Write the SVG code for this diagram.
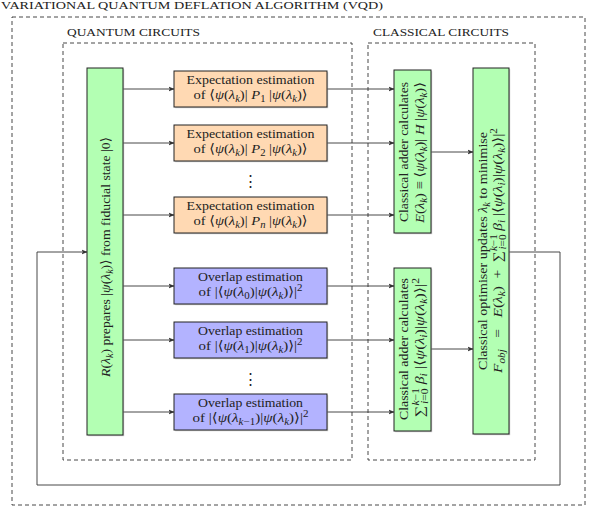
<svg xmlns="http://www.w3.org/2000/svg" width="593" height="512" viewBox="0 0 593 512">
<defs>
<style>
.t{font-family:"Liberation Serif","DejaVu Serif",serif;font-size:13px;fill:#222;}
.h{font-family:"Liberation Serif","DejaVu Serif",serif;font-size:11px;fill:#222;}
.m{text-anchor:middle;}
.i{font-style:italic;}
.s{font-size:9.5px;}
.dash{fill:none;stroke:#333;stroke-width:0.9;stroke-dasharray:4,3;}
.box{stroke:#222;stroke-width:1;}
.sh{fill:#aaa;opacity:0.6;}
.g{fill:#b3ffb3;}
.o{fill:#ffd9b3;}
.b{fill:#b3b3ff;}
.c{fill:none;stroke:#333;stroke-width:0.9;}
</style>
<marker id="ar" viewBox="0 0 6 6" refX="5.5" refY="3" markerWidth="6" markerHeight="6" markerUnits="userSpaceOnUse" orient="auto">
<path d="M0,0.6 L6,3 L0,5.4 L1.4,3 Z" fill="#333"/>
</marker>
</defs>
<rect width="593" height="512" fill="#fff"/>

<g id="frames">
<rect class="dash" x="12" y="17" width="573" height="488"/>
<text class="h" x="1" y="9" textLength="382" lengthAdjust="spacingAndGlyphs">VARIATIONAL QUANTUM DEFLATION ALGORITHM (VQD)</text>
<rect class="dash" x="63" y="43" width="289" height="417"/>
<text class="h" x="67" y="36" textLength="133" lengthAdjust="spacingAndGlyphs">QUANTUM CIRCUITS</text>
<rect class="dash" x="368" y="43" width="167" height="417"/>
<text class="h" x="373" y="36" textLength="136" lengthAdjust="spacingAndGlyphs">CLASSICAL CIRCUITS</text>
</g>

<g id="connectors">
<line class="c" x1="123" y1="89" x2="174" y2="89" marker-end="url(#ar)"/>
<line class="c" x1="123" y1="143" x2="174" y2="143" marker-end="url(#ar)"/>
<line class="c" x1="123" y1="215" x2="174" y2="215" marker-end="url(#ar)"/>
<line class="c" x1="123" y1="286" x2="174" y2="286" marker-end="url(#ar)"/>
<line class="c" x1="123" y1="340" x2="174" y2="340" marker-end="url(#ar)"/>
<line class="c" x1="123" y1="412" x2="174" y2="412" marker-end="url(#ar)"/>
<line class="c" x1="327" y1="89" x2="394" y2="89" marker-end="url(#ar)"/>
<line class="c" x1="327" y1="143" x2="394" y2="143" marker-end="url(#ar)"/>
<line class="c" x1="327" y1="215" x2="394" y2="215" marker-end="url(#ar)"/>
<line class="c" x1="327" y1="286" x2="394" y2="286" marker-end="url(#ar)"/>
<line class="c" x1="327" y1="340" x2="394" y2="340" marker-end="url(#ar)"/>
<line class="c" x1="327" y1="412" x2="394" y2="412" marker-end="url(#ar)"/>
<line class="c" x1="431" y1="152" x2="473" y2="152" marker-end="url(#ar)"/>
<line class="c" x1="431" y1="349" x2="473" y2="349" marker-end="url(#ar)"/>
<path class="c" d="M509,252 H560 V485 H37 V252 H87" marker-end="url(#ar)"/>
</g>

<g id="prep">
<rect class="sh" x="88.2" y="69.2" width="36" height="367"/>
<rect class="box g" x="87" y="68" width="36" height="367"/>
<text class="t m" transform="translate(109.5,257) rotate(-90)" textLength="240" lengthAdjust="spacingAndGlyphs"><tspan class="i">R</tspan>(<tspan class="i">λ</tspan><tspan class="s i" dy="3">k</tspan><tspan dy="-3">) prepares |</tspan><tspan class="i">ψ</tspan>(<tspan class="i">λ</tspan><tspan class="s i" dy="3">k</tspan><tspan dy="-3">)⟩ from fiducial state |0⟩</tspan></text>
</g>

<g id="exp1">
<rect class="sh" x="175.2" y="72.2" width="153" height="36"/>
<rect class="box o" x="174" y="71" width="153" height="36"/>
<text class="t m" x="250.5" y="84" textLength="128" lengthAdjust="spacingAndGlyphs">Expectation estimation</text>
<text class="t m" x="250.5" y="99" textLength="114" lengthAdjust="spacingAndGlyphs">of ⟨<tspan class="i">ψ</tspan>(<tspan class="i">λ</tspan><tspan class="s i" dy="3">k</tspan><tspan dy="-3">)| </tspan><tspan class="i">P</tspan><tspan class="s" dy="3">1</tspan><tspan dy="-3"> |</tspan><tspan class="i">ψ</tspan>(<tspan class="i">λ</tspan><tspan class="s i" dy="3">k</tspan><tspan dy="-3">)⟩</tspan></text>
</g>

<g id="exp2">
<rect class="sh" x="175.2" y="126.2" width="153" height="36"/>
<rect class="box o" x="174" y="125" width="153" height="36"/>
<text class="t m" x="250.5" y="138" textLength="128" lengthAdjust="spacingAndGlyphs">Expectation estimation</text>
<text class="t m" x="250.5" y="153" textLength="114" lengthAdjust="spacingAndGlyphs">of ⟨<tspan class="i">ψ</tspan>(<tspan class="i">λ</tspan><tspan class="s i" dy="3">k</tspan><tspan dy="-3">)| </tspan><tspan class="i">P</tspan><tspan class="s" dy="3">2</tspan><tspan dy="-3"> |</tspan><tspan class="i">ψ</tspan>(<tspan class="i">λ</tspan><tspan class="s i" dy="3">k</tspan><tspan dy="-3">)⟩</tspan></text>
</g>

<g id="dots1">
<text class="t m" x="250.5" y="186" style="font-size:15px">⋮</text>
</g>

<g id="expn">
<rect class="sh" x="175.2" y="198.2" width="153" height="36"/>
<rect class="box o" x="174" y="197" width="153" height="36"/>
<text class="t m" x="250.5" y="210" textLength="128" lengthAdjust="spacingAndGlyphs">Expectation estimation</text>
<text class="t m" x="250.5" y="225" textLength="114" lengthAdjust="spacingAndGlyphs">of ⟨<tspan class="i">ψ</tspan>(<tspan class="i">λ</tspan><tspan class="s i" dy="3">k</tspan><tspan dy="-3">)| </tspan><tspan class="i">P</tspan><tspan class="s i" dy="3">n</tspan><tspan dy="-3"> |</tspan><tspan class="i">ψ</tspan>(<tspan class="i">λ</tspan><tspan class="s i" dy="3">k</tspan><tspan dy="-3">)⟩</tspan></text>
</g>

<g id="ovl0">
<rect class="sh" x="175.2" y="269.2" width="153" height="36"/>
<rect class="box b" x="174" y="268" width="153" height="36"/>
<text class="t m" x="250.5" y="281" textLength="105" lengthAdjust="spacingAndGlyphs">Overlap estimation</text>
<text class="t m" x="250.5" y="296" textLength="104" lengthAdjust="spacingAndGlyphs">of |⟨<tspan class="i">ψ</tspan>(<tspan class="i">λ</tspan><tspan class="s" dy="3">0</tspan><tspan dy="-3">)|</tspan><tspan class="i">ψ</tspan>(<tspan class="i">λ</tspan><tspan class="s i" dy="3">k</tspan><tspan dy="-3">)⟩|</tspan><tspan class="s" dy="-5">2</tspan></text>
</g>

<g id="ovl1">
<rect class="sh" x="175.2" y="323.2" width="153" height="36"/>
<rect class="box b" x="174" y="322" width="153" height="36"/>
<text class="t m" x="250.5" y="335" textLength="105" lengthAdjust="spacingAndGlyphs">Overlap estimation</text>
<text class="t m" x="250.5" y="350" textLength="104" lengthAdjust="spacingAndGlyphs">of |⟨<tspan class="i">ψ</tspan>(<tspan class="i">λ</tspan><tspan class="s" dy="3">1</tspan><tspan dy="-3">)|</tspan><tspan class="i">ψ</tspan>(<tspan class="i">λ</tspan><tspan class="s i" dy="3">k</tspan><tspan dy="-3">)⟩|</tspan><tspan class="s" dy="-5">2</tspan></text>
</g>

<g id="dots2">
<text class="t m" x="250.5" y="384" style="font-size:15px">⋮</text>
</g>

<g id="ovlk">
<rect class="sh" x="175.2" y="395.2" width="153" height="36"/>
<rect class="box b" x="174" y="394" width="153" height="36"/>
<text class="t m" x="250.5" y="407" textLength="105" lengthAdjust="spacingAndGlyphs">Overlap estimation</text>
<text class="t m" x="250.5" y="422" textLength="116" lengthAdjust="spacingAndGlyphs">of |⟨<tspan class="i">ψ</tspan>(<tspan class="i">λ</tspan><tspan class="s i" dy="3">k</tspan><tspan class="s" >−1</tspan><tspan dy="-3">)|</tspan><tspan class="i">ψ</tspan>(<tspan class="i">λ</tspan><tspan class="s i" dy="3">k</tspan><tspan dy="-3">)⟩|</tspan><tspan class="s" dy="-5">2</tspan></text>
</g>

<g id="adderE">
<rect class="sh" x="395.2" y="71.2" width="37" height="163"/>
<rect class="box g" x="394" y="70" width="37" height="163"/>
<text class="t m" transform="translate(408,152) rotate(-90)" textLength="140" lengthAdjust="spacingAndGlyphs">Classical adder calculates</text>
<text class="t m" transform="translate(424,152.5) rotate(-90)" textLength="141" lengthAdjust="spacingAndGlyphs"><tspan class="i">E</tspan>(<tspan class="i">λ</tspan><tspan class="s i" dy="3">k</tspan><tspan dy="-3">) ≡ ⟨</tspan><tspan class="i">ψ</tspan>(<tspan class="i">λ</tspan><tspan class="s i" dy="3">k</tspan><tspan dy="-3">)| </tspan><tspan class="i">H</tspan> |<tspan class="i">ψ</tspan>(<tspan class="i">λ</tspan><tspan class="s i" dy="3">k</tspan><tspan dy="-3">)⟩</tspan></text>
</g>

<g id="adderO">
<rect class="sh" x="395.2" y="269.2" width="37" height="163"/>
<rect class="box g" x="394" y="268" width="37" height="163"/>
<text class="t m" transform="translate(408,349) rotate(-90)" textLength="142" lengthAdjust="spacingAndGlyphs">Classical adder calculates</text>
<text class="t m" transform="translate(424,347.5) rotate(-90)" textLength="139" lengthAdjust="spacingAndGlyphs">∑<tspan class="s i" dy="-5">k</tspan><tspan class="s">−1</tspan><tspan class="s i" dx="-13" dy="9">i</tspan><tspan class="s">=0</tspan><tspan dy="-4"> </tspan><tspan class="i">β</tspan><tspan class="s i" dy="3">i</tspan><tspan dy="-3"> |⟨</tspan><tspan class="i">ψ</tspan>(<tspan class="i">λ</tspan><tspan class="s i" dy="3">i</tspan><tspan dy="-3">)|</tspan><tspan class="i">ψ</tspan>(<tspan class="i">λ</tspan><tspan class="s i" dy="3">k</tspan><tspan dy="-3">)⟩|</tspan><tspan class="s" dy="-5">2</tspan></text>
</g>

<g id="optimiser">
<rect class="sh" x="474.2" y="69.2" width="36" height="366"/>
<rect class="box g" x="473" y="68" width="36" height="366"/>
<text class="t m" transform="translate(487,251) rotate(-90)" textLength="238" lengthAdjust="spacingAndGlyphs">Classical optimiser updates <tspan class="i">λ</tspan><tspan class="s i" dy="3">k</tspan><tspan dy="-3"> to minimise</tspan></text>
<text class="t m" transform="translate(502,250.5) rotate(-90)" textLength="245" lengthAdjust="spacingAndGlyphs"><tspan class="i">F</tspan><tspan class="s i" dy="3">obj</tspan><tspan dy="-3">&#160;&#160;&#160;=&#160;&#160;&#160;</tspan><tspan class="i">E</tspan>(<tspan class="i">λ</tspan><tspan class="s i" dy="3">k</tspan><tspan dy="-3">)&#160;&#160;+&#160;&#160;∑</tspan><tspan class="s i" dy="-5">k</tspan><tspan class="s">−1</tspan><tspan class="s i" dx="-13" dy="9">i</tspan><tspan class="s">=0</tspan><tspan dy="-4"> </tspan><tspan class="i">β</tspan><tspan class="s i" dy="3">i</tspan><tspan dy="-3"> |⟨</tspan><tspan class="i">ψ</tspan>(<tspan class="i">λ</tspan><tspan class="s i" dy="3">i</tspan><tspan dy="-3">)|</tspan><tspan class="i">ψ</tspan>(<tspan class="i">λ</tspan><tspan class="s i" dy="3">k</tspan><tspan dy="-3">)⟩|</tspan><tspan class="s" dy="-5">2</tspan></text>
</g>
</svg>
